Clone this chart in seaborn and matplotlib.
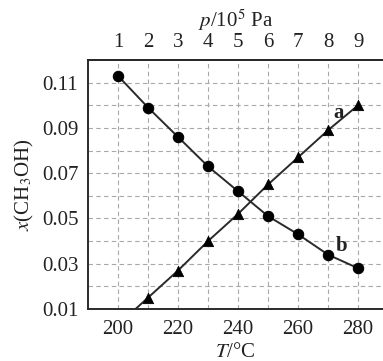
import matplotlib
matplotlib.use("Agg")
import matplotlib.pyplot as plt
import seaborn as sns
import pandas as pd
import numpy as np

# Data
T_b = [200, 210, 220, 230, 240, 250, 260, 270, 280]
x_b = [0.113, 0.099, 0.086, 0.073, 0.062, 0.051, 0.043, 0.034, 0.028]

T_a = [210, 220, 230, 240, 250, 260, 270, 280]
x_a = [0.015, 0.027, 0.040, 0.052, 0.065, 0.077, 0.089, 0.100]
# line a continues below the axis toward T = 200
T_a_line = [200, 210, 220, 230, 240, 250, 260, 270, 280]
x_a_line = [0.003, 0.015, 0.027, 0.040, 0.052, 0.065, 0.077, 0.089, 0.100]

x_ticks = [200, 220, 240, 260, 280]
y_ticks = [0.01, 0.03, 0.05, 0.07, 0.09, 0.11]
p_ticks_T = [200, 210, 220, 230, 240, 250, 260, 270, 280]
p_labels = ["1", "2", "3", "4", "5", "6", "7", "8", "9"]

sns.set_theme(style="white")
plt.rcParams["font.family"] = ["Liberation Serif", "DejaVu Serif"]
plt.rcParams["mathtext.fontset"] = "stix"

dark = "#2a2a2a"
fs = 15

fig = plt.figure(figsize=(3.83, 3.61), dpi=100)
ax = fig.add_axes([88 / 383, 52 / 361, 1 - 88 / 383, 249 / 361])

df_b = pd.DataFrame({"T": T_b, "x": x_b})
df_a = pd.DataFrame({"T": T_a, "x": x_a})
df_al = pd.DataFrame({"T": T_a_line, "x": x_a_line})

sns.lineplot(data=df_b, x="T", y="x", ax=ax, color=dark, lw=1.4,
             marker="o", markersize=7.5, markeredgecolor="black",
             markerfacecolor="black", zorder=3)
sns.lineplot(data=df_al, x="T", y="x", ax=ax, color=dark, lw=1.4, zorder=3)
sns.scatterplot(data=df_a, x="T", y="x", ax=ax, marker="^", s=55,
                color="black", edgecolor="black", zorder=4)

ax.set_xlim(190, 288.3)
ax.set_ylim(0.01, 0.12)

ax.set_xticks(x_ticks)
ax.set_xticklabels([str(v) for v in x_ticks])
ax.set_yticks(y_ticks)
ax.set_yticklabels([f"{v:.2f}" for v in y_ticks])

# dashed grid at every 10 degrees and every 0.01
grid_kw = dict(color="#a8a8a8", linestyle=(0, (4, 3)), lw=0.8, zorder=0)
for t in np.arange(200, 281, 10):
    ax.axvline(t, **grid_kw)
for v in np.arange(0.02, 0.115, 0.01):
    ax.axhline(v, **grid_kw)
ax.grid(False)

ax.tick_params(axis="both", which="both", length=0, labelsize=fs, colors="#222222")
ax.tick_params(axis="y", pad=7)
ax.tick_params(axis="x", pad=8)

for s in ["left", "bottom", "top"]:
    ax.spines[s].set_color(dark)
    ax.spines[s].set_linewidth(1.4)
ax.spines["right"].set_visible(False)

ax.set_xlabel(r"$T$/°C", fontsize=fs, color="#222222", labelpad=3)
ax.set_ylabel(r"$x$(CH$_3$OH)", fontsize=fs, color="#222222", labelpad=4)

# top axis: pressure
ax2 = ax.twiny()
ax2.set_xlim(190, 288.3)
ax2.set_xticks(p_ticks_T)
ax2.set_xticklabels(p_labels)
ax2.tick_params(axis="x", length=0, labelsize=fs, colors="#222222", pad=6)
for s in ["left", "bottom", "right"]:
    ax2.spines[s].set_visible(False)
ax2.spines["top"].set_color(dark)
ax2.spines["top"].set_linewidth(1.4)
ax2.set_xlabel(r"$p$/10$^5$ Pa", fontsize=fs, color="#222222", labelpad=4)

ax.text(273.5, 0.0965, "a", fontsize=fs, fontweight="bold", color="#222222",
        ha="center", va="center")
ax.text(274.5, 0.038, "b", fontsize=fs, fontweight="bold", color="#222222",
        ha="center", va="center")

ax.set_xlim(190, 288.3)
fig.savefig("out.png", dpi=100)
